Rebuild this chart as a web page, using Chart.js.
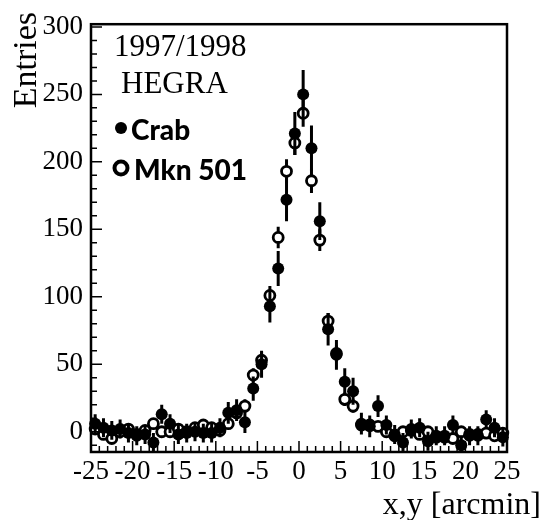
<!DOCTYPE html>
<html>
<head>
<meta charset="utf-8">
<script src="https://cdn.jsdelivr.net/npm/chart.js@4.4.0/dist/chart.umd.min.js"></script>
<style>
  html, body { margin: 0; padding: 0; background: #fff; }
  #wrap { width: 543px; height: 520px; }
</style>
</head>
<body>
<div id="wrap"><canvas id="distChart" width="543" height="520"></canvas></div>
<script>
// bin centres in arcmin
const binCenters = [
  -24.5, -23.5, -22.5, -21.5, -20.5, -19.5, -18.5, -17.5, -16.5, -15.5,
  -14.5, -13.5, -12.5, -11.5, -10.5, -9.5, -8.5, -7.5, -6.5, -5.5,
  -4.5, -3.5, -2.5, -1.5, -0.5, 0.5, 1.5, 2.5, 3.5, 4.5,
  5.5, 6.5, 7.5, 8.5, 9.5, 10.5, 11.5, 12.5, 13.5, 14.5,
  15.5, 16.5, 17.5, 18.5, 19.5, 20.5, 21.5, 22.5, 23.5, 24.5,
];

// Crab (filled circles)
const crabCounts = [
  6, 3, 1, 2, -1, -3, -2, -8, 13, 6,
  -2, -1, 0, -1, -1, 3, 14, 16, 7, 32,
  50, 93, 121, 172, 221, 250, 210, 156, 76, 57,
  37, 30, 6, 4, 19, 5, -2, -8, 2, 3,
  -7, -3, -3, 5, -10, -3, -3, 9, 3, -4,
];
const crabErrors = [
  7, 7, 7, 7, 7, 7, 7, 7, 7, 7,
  7, 7, 7, 7, 7, 7, 8, 8, 8, 9,
  10, 12, 13, 16, 16, 18, 17, 14, 12, 11,
  10, 10, 8, 8, 8, 7, 7, 7, 7, 7,
  7, 7, 7, 7, 7, 7, 7, 7, 7, 7,
];

// Mkn 501 (open circles)
const mknCounts = [
  2, -2, -5, 0, 2, -2, 1, 6, 0, 0,
  2, 0, 3, 5, 3, 1, 6, 14, 19, 42,
  53, 101, 144, 193, 214, 236, 186, 142, 82, 58,
  24, 19, 5, 5, 4, 0, -3, 0, 1, -2,
  0, -4, -4, -5, 0, -2, -2, -1, -3, -1,
];
const mknErrors = [
  3, 3, 3, 3, 3, 3, 3, 3, 3, 3,
  3, 3, 3, 3, 3, 3, 4, 4, 5, 5,
  6, 7, 8, 9, 9, 10, 9, 8, 6, 6,
  5, 5, 3, 3, 3, 3, 3, 3, 3, 3,
  3, 3, 3, 3, 3, 3, 3, 3, 3, 3,
];

const xTicks = [-25, -20, -15, -10, -5, 0, 5, 10, 15, 20, 25];
const yTicks = [0, 50, 100, 150, 200, 250, 300];

const serif = '"Liberation Serif", "DejaVu Serif", serif';

function toPoints(xs, ys) {
  return xs.map((x, i) => ({ x: x, y: ys[i] }));
}

// vertical error bars, drawn under each dataset's markers
const errorBars = {
  id: "errorBars",
  beforeDatasetDraw(chart, args) {
    const ds = chart.data.datasets[args.index];
    if (!ds.errors) return;
    const ctx = chart.ctx;
    const xs = chart.scales.x;
    const ys = chart.scales.y;
    ctx.save();
    ctx.beginPath();
    ctx.rect(chart.chartArea.left, chart.chartArea.top,
      chart.chartArea.right - chart.chartArea.left,
      chart.chartArea.bottom - chart.chartArea.top);
    ctx.clip();
    ctx.strokeStyle = "#000";
    ctx.lineWidth = ds.errorWidth || 2.5;
    ds.data.forEach((p, i) => {
      const px = xs.getPixelForValue(p.x);
      ctx.beginPath();
      ctx.moveTo(px, ys.getPixelForValue(p.y - ds.errors[i]));
      ctx.lineTo(px, ys.getPixelForValue(p.y + ds.errors[i]));
      ctx.stroke();
    });
    ctx.restore();
  },
};

// frame, inward ticks, labels inside the plot and axis titles
const frameAndText = {
  id: "frameAndText",
  afterDraw(chart) {
    const ctx = chart.ctx;
    const a = chart.chartArea;
    const xs = chart.scales.x;
    const ys = chart.scales.y;
    ctx.save();
    ctx.strokeStyle = "#000";
    ctx.lineWidth = 2.5;
    ctx.strokeRect(a.left, a.top, a.right - a.left, a.bottom - a.top);

    ctx.lineWidth = 1.5;
    ctx.beginPath();
    for (let v = -10; v <= 300; v += 10) {
      const py = ys.getPixelForValue(v);
      const len = v % 50 === 0 ? 11 : 6;
      ctx.moveTo(a.left, py);
      ctx.lineTo(a.left + len, py);
    }
    for (let v = -25; v <= 25; v += 1) {
      const px = xs.getPixelForValue(v);
      const len = v % 5 === 0 ? 11 : 6;
      ctx.moveTo(px, a.bottom);
      ctx.lineTo(px, a.bottom - len);
    }
    ctx.stroke();

    ctx.fillStyle = "#000";
    ctx.textBaseline = "alphabetic";
    ctx.textAlign = "left";
    ctx.font = "31px " + serif;
    ctx.fillText("1997/1998", 114, 56);
    ctx.fillText("HEGRA", 121, 93);

    ctx.font = "900 28px Lato, \"Open Sans\", sans-serif";
    ctx.beginPath();
    ctx.arc(121, 128, 6, 0, Math.PI * 2);
    ctx.fill();
    ctx.fillText("Crab", 131, 140);
    ctx.lineWidth = 4;
    ctx.beginPath();
    ctx.arc(121, 168, 6.5, 0, Math.PI * 2);
    ctx.stroke();
    ctx.fillText("Mkn 501", 134, 180);

    ctx.font = "32px " + serif;
    ctx.textAlign = "right";
    ctx.fillText("x,y [arcmin]", 541, 514);

    ctx.save();
    ctx.translate(36, 12);
    ctx.rotate(-Math.PI / 2);
    ctx.textAlign = "right";
    ctx.font = "34px " + serif;
    ctx.fillText("Entries", 0, 0);
    ctx.restore();
    ctx.restore();
  },
};

const ctx = document.getElementById("distChart").getContext("2d");
new Chart(ctx, {
  type: "scatter",
  data: {
    datasets: [
      {
        label: "Crab",
        data: toPoints(binCenters, crabCounts),
        errors: crabErrors,
        errorWidth: 3,
        pointRadius: 6,
        pointBackgroundColor: "#000",
        pointBorderColor: "#000",
        pointBorderWidth: 0,
      },
      {
        label: "Mkn 501",
        data: toPoints(binCenters, mknCounts),
        errors: mknErrors,
        errorWidth: 3,
        pointRadius: 5,
        pointBackgroundColor: "#fff",
        pointBorderColor: "#000",
        pointBorderWidth: 2.8,
      },
    ],
  },
  options: {
    responsive: false,
    animation: false,
    clip: false,
    layout: { padding: { left: 0, top: 15, right: 36, bottom: 0 } },
    plugins: {
      legend: { display: false },
      tooltip: { enabled: false },
    },
    scales: {
      x: {
        type: "linear",
        min: -25,
        max: 25,
        afterBuildTicks: (axis) => {
          axis.ticks = xTicks.map((v) => ({ value: v }));
        },
        afterFit: (axis) => {
          axis.height = 68;
        },
        grid: { display: false, drawTicks: false },
        border: { display: false },
        ticks: {
          color: "#000",
          padding: 4,
          maxRotation: 0,
          autoSkip: false,
          font: { family: serif, size: 27 },
        },
      },
      y: {
        type: "linear",
        min: -15,
        max: 302,
        afterBuildTicks: (axis) => {
          axis.ticks = yTicks.map((v) => ({ value: v }));
        },
        afterFit: (axis) => {
          axis.width = 91;
        },
        grid: { display: false, drawTicks: false },
        border: { display: false },
        ticks: {
          color: "#000",
          padding: 8,
          font: { family: serif, size: 27 },
        },
      },
    },
  },
  plugins: [errorBars, frameAndText],
});
</script>
</body>
</html>
